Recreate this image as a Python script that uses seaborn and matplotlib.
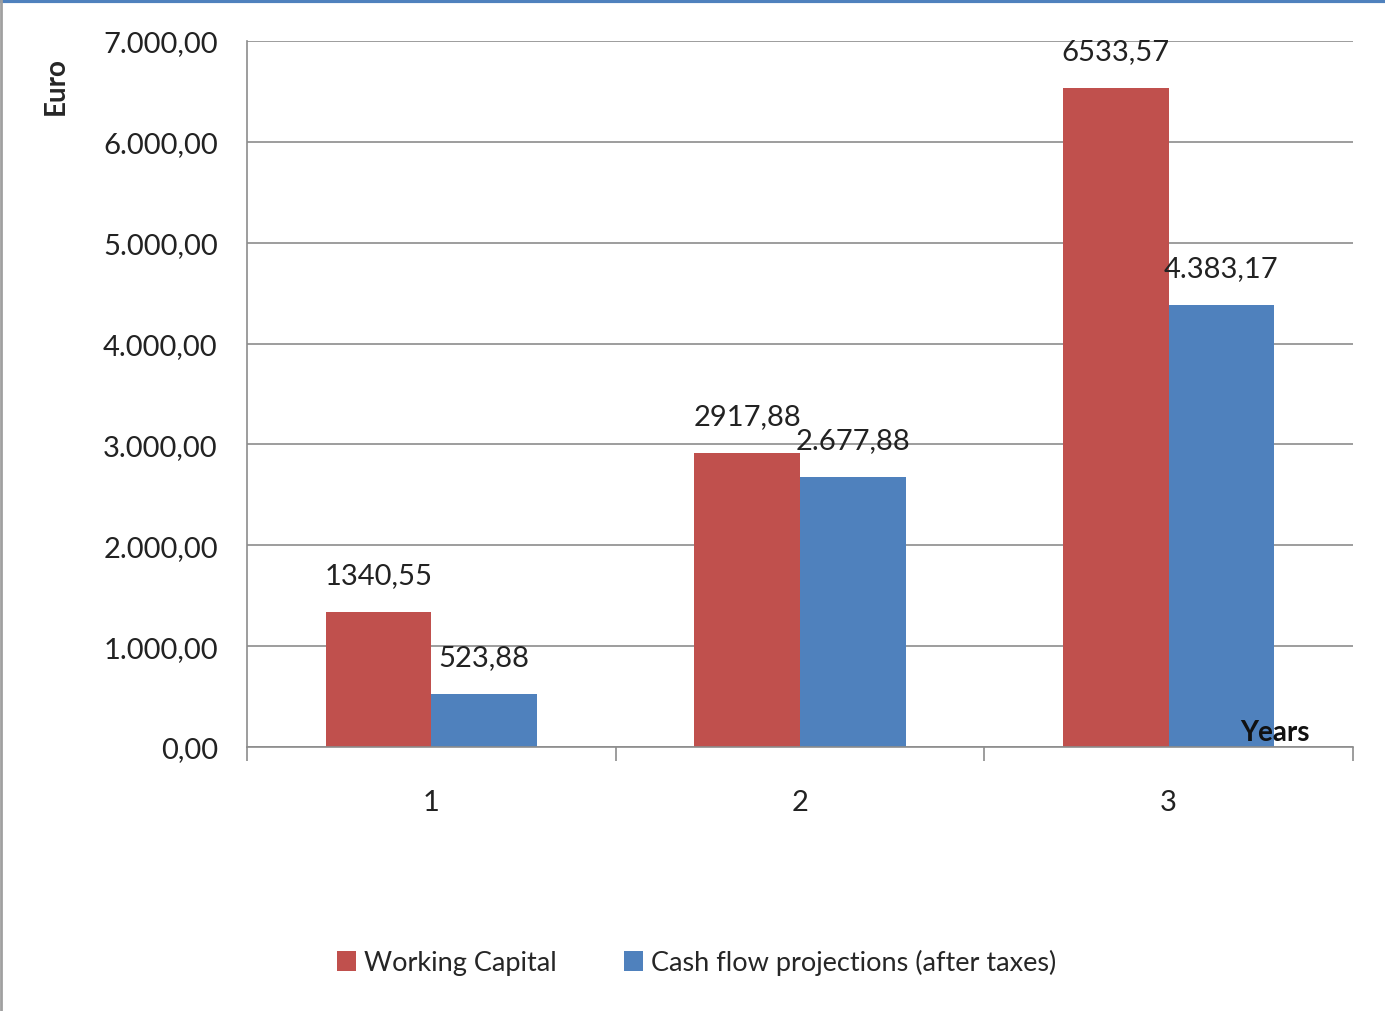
import numpy as np
import pandas as pd
import seaborn as sns
import matplotlib.pyplot as plt
from matplotlib.lines import Line2D
from matplotlib.ticker import FuncFormatter, FixedLocator

years = ["1", "2", "3"]
working_capital = [1340.55, 2917.88, 6533.57]
cash_flow = [523.88, 2677.88, 4383.17]
series_names = ["Working Capital", "Cash flow projections (after taxes)"]
colors = ["#C0504D", "#4F81BD"]

df = pd.DataFrame({
    "year": years * 2,
    "value": working_capital + cash_flow,
    "series": [series_names[0]] * 3 + [series_names[1]] * 3,
})


def euro(v, thousands=True):
    s = f"{v:,.2f}" if thousands else f"{v:.2f}"
    return s.replace(",", "X").replace(".", ",").replace("X", ".")


sns.set_theme(style="white")
plt.rcParams["font.family"] = ["Lato", "DejaVu Sans"]

fig = plt.figure(figsize=(13.85, 10.12), dpi=100)
ax = fig.add_axes([0.1783, 0.2609, 0.9769 - 0.1783, 0.9585 - 0.2609])

sns.barplot(data=df, x="year", y="value", hue="series", palette=colors,
            width=0.573, saturation=1, linewidth=0, ax=ax, legend=True)

# labels above bars
for i, cont in enumerate(ax.containers):
    labels = [euro(v, thousands=(i == 1)) for v in cont.datavalues]
    ax.bar_label(cont, labels=labels, padding=17, fontsize=21, color="#222222")

ax.set_ylim(0, 7000)
ax.set_xlim(-0.5, 2.5)
ax.yaxis.set_major_locator(FixedLocator(np.arange(0, 7001, 1000)))
ax.yaxis.set_major_formatter(FuncFormatter(lambda v, p: euro(v)))
ax.grid(axis="y", color="#8c8c8c", linewidth=1.2)
ax.set_axisbelow(True)
for side in ["top", "right"]:
    ax.spines[side].set_visible(False)
for side in ["left", "bottom"]:
    ax.spines[side].set_color("#8c8c8c")
    ax.spines[side].set_linewidth(1.2)

ax.tick_params(axis="y", labelsize=21, length=0, pad=21, labelcolor="#222222")
ax.tick_params(axis="x", which="major", labelsize=21, length=0, pad=30, labelcolor="#222222")
ax.xaxis.set_minor_locator(FixedLocator([-0.5, 0.5, 1.5, 2.5]))
ax.tick_params(axis="x", which="minor", length=10, width=1.2, color="#8c8c8c", bottom=True)

ax.set_xlabel("")
ax.set_ylabel("Euro", fontsize=20, fontweight="bold")
ax.yaxis.set_label_coords(-0.161, 0.937)
ax.text(0.929, 0.003, "Years", transform=ax.transAxes, fontsize=20,
        fontweight="bold", ha="center", va="bottom", color="#111111")

ax.legend(loc="center", bbox_to_anchor=(0.503, 0.048), bbox_transform=fig.transFigure,
          ncol=2, frameon=False, fontsize=19.5, handlelength=0.7, handleheight=0.8,
          handletextpad=0.3, columnspacing=2.5)

# frame of the chart area
fig.add_artist(Line2D([0, 1], [0.998, 0.998], color="#4F81BD", linewidth=3))
fig.add_artist(Line2D([0.001, 0.001], [0, 1], color="#a0a0a0", linewidth=2))

fig.savefig("out.png", dpi=100)
